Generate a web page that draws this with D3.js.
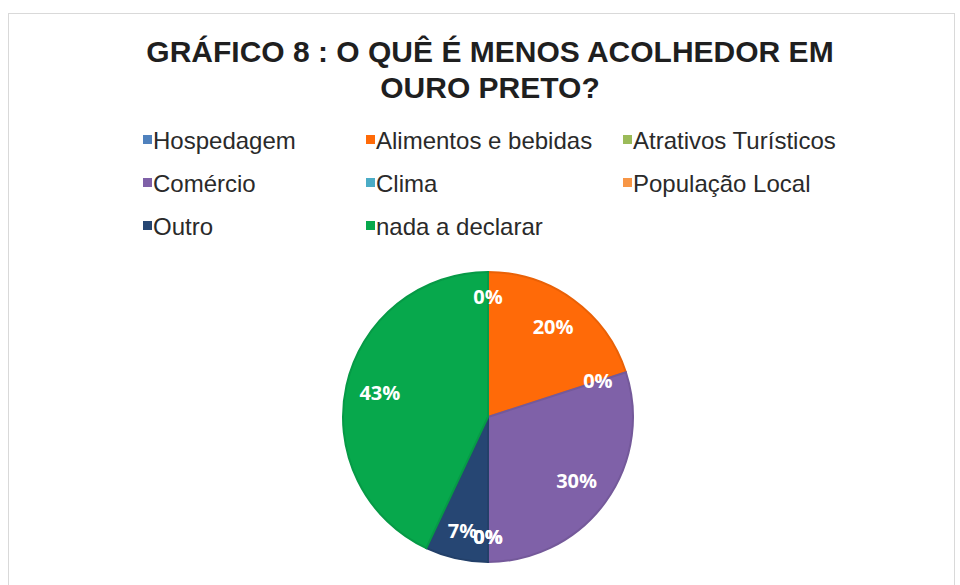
<!DOCTYPE html>
<html>
<head>
<meta charset="utf-8">
<script src="https://cdn.jsdelivr.net/npm/d3@7"></script>
<style>
  body { margin: 0; background: #fff; }
  svg { display: block; }
</style>
</head>
<body>
<div id="chart"></div>
<script>
// dados do gráfico
const titleLines = ["GRÁFICO 8 : O QUÊ É MENOS ACOLHEDOR EM", "OURO PRETO?"];
const categories = ["Hospedagem", "Alimentos e bebidas", "Atrativos Turísticos", "Comércio", "Clima", "População Local", "Outro", "nada a declarar"];
const values = [0, 20, 0, 30, 0, 0, 7, 43];
const colors = ["#4F81BD", "#FF6A08", "#9BBB59", "#7F61A8", "#4BACC6", "#F79646", "#264673", "#07A84C"];

const width = 960, height = 585;

const svg = d3.select("#chart").append("svg")
    .attr("width", width)
    .attr("height", height);

// moldura
svg.append("rect")
    .attr("x", 8.5).attr("y", 13.5)
    .attr("width", 946).attr("height", 600)
    .attr("fill", "#fff")
    .attr("stroke", "#d9d9d9");

// título
svg.append("g").selectAll("text")
    .data(titleLines)
    .join("text")
    .attr("x", 490)
    .attr("y", (d, i) => 62 + i * 36)
    .attr("text-anchor", "middle")
    .style("font-family", "'Liberation Sans', Arial, sans-serif")
    .style("font-weight", "bold")
    .style("font-size", "30px")
    .style("fill", "#1f1f1f")
    .text(d => d);

// legenda
const legendCols = [143, 366, 623];
const legend = svg.append("g").selectAll("g")
    .data(categories)
    .join("g")
    .attr("transform", (d, i) => `translate(${legendCols[i % 3]},${140 + Math.floor(i / 3) * 43})`);

legend.append("rect")
    .attr("x", 0).attr("y", -5)
    .attr("width", 9).attr("height", 9)
    .attr("fill", (d, i) => colors[i]);

legend.append("text")
    .attr("x", 10)
    .attr("y", 0)
    .attr("dy", "0.36em")
    .style("font-family", "'Liberation Sans', Arial, sans-serif")
    .style("font-size", "24px")
    .style("fill", "#2a2a2a")
    .text(d => d);

// pizza
const cx = 488, cy = 417, R = 145;
const pie = d3.pie().sort(null).value(d => d);
const arc = d3.arc().innerRadius(0).outerRadius(R);
const arcs = pie(values);

const g = svg.append("g").attr("transform", `translate(${cx},${cy})`);

g.selectAll("path")
    .data(arcs)
    .join("path")
    .attr("d", arc)
    .attr("fill", (d, i) => colors[i])
    .attr("stroke", (d, i) => d3.color(colors[i]).darker(0.25))
    .attr("stroke-width", (d) => d.value > 0 ? 2 : 0);

// rótulos (posição "extremidade interna")
const labels = g.selectAll("text.lbl")
    .data(arcs)
    .join("text")
    .attr("class", "lbl")
    .attr("text-anchor", "middle")
    .attr("dy", "0.35em")
    .style("font-family", "'Open Sans', 'DejaVu Sans', sans-serif")
    .style("font-weight", "bold")
    .style("font-size", "20px")
    .style("fill", "#fff")
    .text(d => d3.format(".0%")(d.value / d3.sum(values)));

labels.each(function(d) {
    const box = this.getBBox();
    const a = (d.startAngle + d.endAngle) / 2;
    const ux = Math.sin(a), uy = -Math.cos(a);
    const c = [(ux >= 0 ? 1 : -1) * box.width / 2, (uy >= 0 ? 1 : -1) * box.height / 2];
    const T = R - 11;
    const uc = ux * c[0] + uy * c[1];
    const cc = c[0] * c[0] + c[1] * c[1];
    const dist = -uc + Math.sqrt(uc * uc - (cc - T * T));
    d3.select(this).attr("x", ux * dist).attr("y", uy * dist);
});
</script>
</body>
</html>
